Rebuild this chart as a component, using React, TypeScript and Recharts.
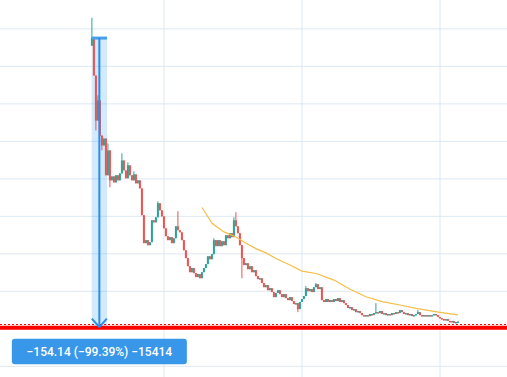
import React from 'react';
import {
  ComposedChart,
  Bar,
  Line,
  XAxis,
  YAxis,
  CartesianGrid,
  ReferenceLine,
  ReferenceArea,
  ReferenceDot,
} from 'recharts';

// ---------- data ----------
const firstOpen = 151.0;

const closes: number[] = [
  155.1, 135.1, 111.1, 121.8, 103.1, 97.8, 101.5, 81.9, 95.2, 79.2,
  81.3, 78.1, 81.9, 79.2, 82.9, 89.8, 84.5, 80.3, 87.2, 81.9,
  79.2, 82.4, 77.6, 79.2, 74.9, 60.6, 45.7, 47.3, 44.6, 46.2,
  57.9, 56.8, 59.5, 67.0, 63.2, 60.0, 53.6, 49.4, 47.3, 48.9,
  45.7, 48.3, 54.7, 52.6, 51.5, 47.3, 41.9, 37.7, 33.4, 30.2,
  32.4, 29.7, 27.6, 29.2, 27.0, 30.2, 32.4, 34.5, 38.7, 37.1,
  39.8, 47.3, 44.1, 47.3, 44.1, 46.7, 44.6, 49.9, 48.3, 51.0,
  48.9, 57.9, 54.7, 51.0, 44.6, 37.7, 34.0, 35.0, 31.8, 33.4,
  30.2, 31.3, 28.1, 26.5, 27.0, 24.4, 22.2, 23.3, 20.6, 21.7,
  19.6, 16.9, 19.1, 20.6, 18.5, 16.9, 18.5, 16.4, 15.3, 16.9,
  14.8, 13.2, 13.7, 10.5, 14.3, 15.9, 17.5, 21.7, 20.1, 21.2,
  19.6, 22.2, 23.8, 21.2, 22.2, 15.3, 14.3, 15.9, 14.3, 15.3,
  14.3, 15.9, 14.8, 16.4, 14.3, 15.3, 13.7, 12.7, 11.1, 11.6,
  10.0, 10.5, 8.9, 9.5, 8.4, 7.3, 6.8, 7.3, 6.8, 7.9,
  7.3, 8.4, 8.9, 8.4, 9.5, 7.9, 8.4, 7.3, 7.9, 7.3,
  8.4, 7.9, 8.9, 8.4, 10.0, 8.9, 7.9, 8.4, 7.3, 7.9,
  6.8, 7.3, 7.9, 8.9, 7.3, 6.8, 7.3, 6.8, 7.3, 6.8,
  7.3, 7.9, 7.3, 6.3, 5.7, 5.2, 4.7, 5.2, 4.2, 3.6,
  4.2, 3.1, 3.6, 3.9,
];

// [candle index, wick value]
const spikeHighs: [number, number][] = [
  [0, 165.9], [3, 124.5], [8, 98.9], [15, 93.6], [18, 88.8], [21, 84.0],
  [33, 68.0], [43, 62.7], [61, 48.3], [71, 59.5], [72, 62.2], [107, 22.8],
  [112, 24.4], [142, 13.7], [163, 10.0],
];
const spikeLows: [number, number][] = [
  [2, 105.8], [5, 95.2], [9, 75.5], [75, 27.0], [103, 8.9],
];

// moving average, read at a few candle indices
const maIndex = [55, 60, 66, 72, 77, 82, 87, 92, 99, 105, 112, 119, 121, 129, 137, 145, 154, 162, 174, 183];
const maValues = [64.7, 56.3, 51.7, 49.0, 45.6, 42.8, 40.5, 37.5, 34.0, 30.8, 29.5, 26.8, 26.0, 21.1, 17.1, 14.5, 12.7, 10.9, 8.8, 7.4];

const gridPrices = [-20, 0, 20, 40, 60, 80, 100, 120, 140, 160];
const gridBars = [36, 105, 174];

const measureFromIdx = -0.15;
const measureToIdx = 7.5;
const measureMidIdx = 3.68;
const measureStart = 155.09;
const measureEnd = 0.95;
const measureLabel = '\u2212154.14 (\u221299.39%) \u221215414';

const redLevel = 0.6;
const lastPriceLevel = 2.3;

// ---------- styles ----------
const GREEN = '#26a69a';
const RED = '#ef5350';
const GRID = '#dde8f2';
const BLUE = '#2a8ee9';

const data = closes.map((c, i) => {
  const open = i === 0 ? firstOpen : closes[i - 1];
  const sh = spikeHighs.find((s) => s[0] === i);
  const sl = spikeLows.find((s) => s[0] === i);
  const high = Math.max(open, c, sh ? sh[1] : -Infinity);
  const low = Math.min(open, c, sl ? sl[1] : Infinity);
  const mi = maIndex.indexOf(i);
  return {
    i,
    open,
    close: c,
    high,
    low,
    range: [low, high],
    ma: mi >= 0 ? maValues[mi] : null,
  };
});

const Candle = (props: any) => {
  const { x, y, width, height, payload } = props;
  if (x == null || y == null || !payload) return null;
  const { open, close, high, low } = payload;
  const top0 = height >= 0 ? y : y + height;
  const h = Math.abs(height);
  const cx = x + width / 2;
  const span = high - low;
  const ppu = span > 0 ? h / span : 0;
  const yOf = (v: number) => top0 + (high - v) * ppu;
  const color = close >= open ? GREEN : RED;
  const bTop = yOf(Math.max(open, close));
  const bBot = yOf(Math.min(open, close));
  return (
    <g>
      <line x1={cx} x2={cx} y1={top0} y2={top0 + h} stroke={color} strokeWidth={1} />
      <rect x={cx - 1} y={bTop} width={2} height={Math.max(1.5, bBot - bTop)} fill={color} />
    </g>
  );
};

const MeasureLabel = (props: any) => {
  const { cx, cy } = props;
  if (cx == null || cy == null) return null;
  return (
    <g>
      <rect x={cx - 87.5} y={cy + 11.7} width={175} height={25.5} rx={3} fill="#3897e9" />
      <text
        x={cx}
        y={cy + 24.6}
        fill="#ffffff"
        fontSize={12}
        fontWeight={500}
        fontFamily="Roboto, 'Liberation Sans', sans-serif"
        textAnchor="middle"
        dominantBaseline="central"
      >
        {measureLabel}
      </text>
    </g>
  );
};

export default function App() {
  return (
    <div style={{ position: 'absolute', left: 0, top: 0, width: 507, height: 377, background: '#fff' }}>
      <ComposedChart
        width={507}
        height={377}
        data={data}
        margin={{ top: 0, right: 0, bottom: 0, left: 0 }}
      >
        <XAxis
          dataKey="i"
          type="number"
          domain={[-46, 207.5]}
          ticks={gridBars}
          allowDataOverflow
          hide
        />
        <YAxis domain={[-25.7, 175.4]} ticks={gridPrices} allowDataOverflow hide />
        <CartesianGrid
          stroke={GRID}
          horizontalValues={gridPrices}
          verticalValues={gridBars}
        />
        <Bar
          dataKey="range"
          barSize={2}
          shape={<Candle />}
          isAnimationActive={false}
        />
        <Line
          dataKey="ma"
          stroke="#f6be45"
          strokeWidth={1.2}
          dot={false}
          connectNulls
          isAnimationActive={false}
        />
        <ReferenceArea
          x1={measureFromIdx}
          x2={measureToIdx}
          y1={measureEnd}
          y2={measureStart}
          fill="#2196f3"
          fillOpacity={0.2}
          stroke="none"
        />
        <ReferenceLine
          segment={[{ x: measureFromIdx, y: measureStart }, { x: measureToIdx, y: measureStart }]}
          stroke="#4a9fea"
          strokeWidth={3}
        />
        <ReferenceLine
          segment={[{ x: measureMidIdx, y: measureStart }, { x: measureMidIdx, y: measureEnd }]}
          stroke={BLUE}
          strokeWidth={2}
        />
        <ReferenceLine y={lastPriceLevel} stroke="#ff0000" strokeWidth={1} strokeDasharray="2 2" />
        <ReferenceLine y={redLevel} stroke="#ff0000" strokeWidth={4} />
        <ReferenceLine
          segment={[{ x: measureFromIdx + 0.1, y: measureEnd + 4.5 }, { x: measureMidIdx, y: measureEnd }]}
          stroke={BLUE}
          strokeWidth={2}
        />
        <ReferenceLine
          segment={[{ x: measureToIdx - 0.1, y: measureEnd + 4.5 }, { x: measureMidIdx, y: measureEnd }]}
          stroke={BLUE}
          strokeWidth={2}
        />
        <ReferenceDot
          x={measureMidIdx}
          y={measureEnd}
          r={0}
          shape={<MeasureLabel />}
        />
      </ComposedChart>
    </div>
  );
}
